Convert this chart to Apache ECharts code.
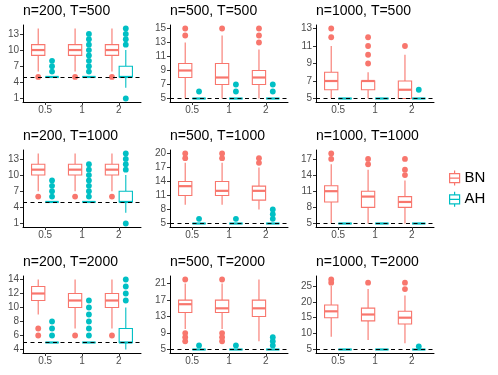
<!DOCTYPE html>
<html>
<head>
<meta charset="utf-8">
<script src="https://cdn.jsdelivr.net/npm/echarts@6/dist/echarts.min.js"></script>
<style>
html, body { margin: 0; padding: 0; background: #fff; }
#chart { width: 498px; height: 375px; }
</style>
</head>
<body>
<div id="chart"></div>
<script>
const categories = ['0.5', '1', '2'];
const panelTitles = [
  'n=200, T=500', 'n=500, T=500', 'n=1000, T=500',
  'n=200, T=1000', 'n=500, T=1000', 'n=1000, T=1000',
  'n=200, T=2000', 'n=500, T=2000', 'n=1000, T=2000'
];
const yTicks = [
  [1, 4, 7, 10, 13], [5, 7, 9, 11, 13, 15], [5, 7, 9, 11, 13],
  [1, 4, 7, 10, 13], [5, 8, 11, 14, 17, 20], [5, 8, 11, 14, 17],
  [4, 6, 8, 10, 12, 14], [5, 9, 13, 17, 21], [5, 10, 15, 20, 25]
];
const refLine = 5;

// per panel, per category: [lower whisker, Q1, median, Q3, upper whisker]
const bnStats = [
  [[6, 9, 10, 11, 14], [6, 9, 10, 11, 14], [6, 9, 10, 11, 14]],
  [[5, 8, 9, 10, 13], [5, 7, 8, 10, 14], [5, 7, 8, 9, 12]],
  [[5, 6, 7, 8, 11], [5, 6, 7, 7, 8], [5, 5, 6, 7, 10]],
  [[7, 10, 11, 12, 14], [7, 10, 11, 12, 14], [7, 10, 11, 12, 14]],
  [[9, 11, 13, 14, 18], [9, 11, 12, 14, 18], [8, 10, 12, 13, 17]],
  [[5, 9, 11, 12, 16], [5, 8, 10, 11, 15], [5, 8, 9, 10, 13]],
  [[9, 11, 12, 13, 14], [7, 10, 11, 12, 14], [7, 10, 11, 12, 14]],
  [[10, 14, 16, 17, 21], [10, 14, 15, 17, 21], [7, 13, 15, 17, 22]],
  [[9, 15, 17, 19, 25], [8, 14, 16, 18, 24], [7, 13, 15, 17, 22]]
];
const bnOutliers = [
  [[5], [5], [5]],
  [[14, 15], [15], [13, 14, 15]],
  [[12, 13], [9, 10, 11, 12], [11]],
  [[6], [6], [6]],
  [[19, 20], [19, 20], [18, 19]],
  [[17, 18], [16, 17], [14, 15, 17]],
  [[6, 7], [6], [6]],
  [[7, 8, 9, 22], [7, 8, 9, 22], []],
  [[26, 27], [26], [24, 26]]
];
const ahStats = [
  [[5, 5, 5, 5, 5], [5, 5, 5, 5, 5], [3, 5, 5, 7, 10]],
  [[5, 5, 5, 5, 5], [5, 5, 5, 5, 5], [5, 5, 5, 5, 5]],
  [[5, 5, 5, 5, 5], [5, 5, 5, 5, 5], [5, 5, 5, 5, 5]],
  [[5, 5, 5, 5, 5], [5, 5, 5, 5, 5], [3, 5, 5, 7, 10]],
  [[5, 5, 5, 5, 5], [5, 5, 5, 5, 5], [5, 5, 5, 5, 5]],
  [[5, 5, 5, 5, 5], [5, 5, 5, 5, 5], [5, 5, 5, 5, 5]],
  [[5, 5, 5, 5, 5], [5, 5, 5, 5, 5], [4, 5, 5, 7, 10]],
  [[5, 5, 5, 5, 5], [5, 5, 5, 5, 5], [5, 5, 5, 5, 5]],
  [[5, 5, 5, 5, 5], [5, 5, 5, 5, 5], [5, 5, 5, 5, 5]]
];
const ahOutliers = [
  [[6, 7, 8], [6, 7, 8, 9, 10, 11, 12, 13], [1, 11, 12, 13, 14]],
  [[6], [6, 7], [6, 7]],
  [[], [], [6]],
  [[6, 7, 8, 9], [6, 7, 8, 9, 10, 11, 12], [1, 11, 12, 13, 14]],
  [[6], [6], [6, 7, 8]],
  [[], [], []],
  [[6, 7, 8], [6, 7, 8, 9, 10, 11], [11, 12, 13, 14]],
  [[6], [6], [6, 7, 8]],
  [[], [], [6]]
];

const BN_COLOR = '#F8766D';
const AH_COLOR = '#00BFC4';
const DODGE = 0.1875;   // box centre offset, in category units
const HALF_BOX = 0.18;  // half box width, in category units

// layout of the 3x3 panels (px)
const colLeft = [23, 170, 316];
const rowTop = [25, 150, 276];
const plotW = 118;
const plotH = 77;
const titleTop = [4, 129, 255];

const BOX_ICON = 'path://M5,0L5,3M0,3L10,3L10,12L0,12ZM0,7.5L10,7.5M5,12L5,15';

function yRange (p) {
  const vals = [refLine];
  [bnStats, ahStats].forEach(s => s[p].forEach(b => vals.push(...b)));
  [bnOutliers, ahOutliers].forEach(o => o[p].forEach(l => vals.push(...l)));
  const lo = Math.min(...vals);
  const hi = Math.max(...vals);
  const pad = (hi - lo) * 0.05;
  return [lo - pad, hi + pad];
}

function boxSeries (name, color, side, stats, p) {
  return {
    name: name,
    type: 'custom',
    xAxisIndex: p,
    yAxisIndex: p,
    itemStyle: {color: color},
    encode: {x: 0, y: [1, 2, 3, 4, 5]},
    data: stats[p].map((s, i) => [i + 1].concat(s)),
    renderItem: function (params, api) {
      const x = api.value(0) + side * DODGE;
      const half = api.size([1, 0])[0] * HALF_BOX;
      const pt = d => api.coord([x, api.value(d)]);
      const lo = pt(1), q1 = pt(2), med = pt(3), q3 = pt(4), hi = pt(5);
      const cx = med[0];
      const thin = {stroke: color, lineWidth: 1.1};
      return {
        type: 'group',
        children: [
          {type: 'line', shape: {x1: cx, y1: hi[1], x2: cx, y2: q3[1]}, style: thin},
          {type: 'line', shape: {x1: cx, y1: q1[1], x2: cx, y2: lo[1]}, style: thin},
          {type: 'rect', shape: {x: cx - half, y: q3[1], width: half * 2, height: q1[1] - q3[1]},
            style: {fill: '#fff', stroke: color, lineWidth: 1.1}},
          {type: 'line', shape: {x1: cx - half, y1: med[1], x2: cx + half, y2: med[1]},
            style: {stroke: color, lineWidth: 2.2}}
        ]
      };
    }
  };
}

function outlierSeries (name, color, side, outliers, p) {
  const data = [];
  outliers[p].forEach((vals, i) => vals.forEach(v => data.push([i + 1, v])));
  return {
    name: name,
    type: 'custom',
    xAxisIndex: p,
    yAxisIndex: p,
    itemStyle: {color: color},
    encode: {x: 0, y: 1},
    data: data,
    renderItem: function (params, api) {
      const c = api.coord([api.value(0) + side * DODGE, api.value(1)]);
      return {type: 'circle', shape: {cx: c[0], cy: c[1], r: 2.9}, style: {fill: color}};
    }
  };
}

const grids = [], xAxes = [], yAxes = [], titles = [], series = [];
for (let p = 0; p < 9; p++) {
  const r = Math.floor(p / 3);
  const c = p % 3;
  grids.push({left: colLeft[c], top: rowTop[r], width: plotW, height: plotH});
  titles.push({
    text: panelTitles[p], left: colLeft[c], top: titleTop[r], padding: 0,
    textStyle: {fontSize: 14, fontWeight: 'normal', color: '#000'}
  });
  xAxes.push({
    type: 'value', gridIndex: p, min: 0.4, max: 3.6,
    axisLine: {show: true, onZero: false, lineStyle: {color: '#000', width: 1}},
    axisTick: {show: true, customValues: [1, 2, 3], length: 3, lineStyle: {color: '#333'}},
    axisLabel: {
      customValues: [1, 2, 3], color: '#4D4D4D', fontSize: 10, margin: 3,
      formatter: v => categories[Math.round(v) - 1]
    },
    splitLine: {show: false}
  });
  const yr = yRange(p);
  yAxes.push({
    type: 'value', gridIndex: p, min: yr[0], max: yr[1],
    axisLine: {show: true, onZero: false, lineStyle: {color: '#000', width: 1}},
    axisTick: {show: true, customValues: yTicks[p], length: 3, lineStyle: {color: '#333'}},
    axisLabel: {customValues: yTicks[p], color: '#4D4D4D', fontSize: 10, margin: 4},
    splitLine: {show: false}
  });
  series.push(boxSeries('BN', BN_COLOR, -1, bnStats, p));
  const ah = boxSeries('AH', AH_COLOR, 1, ahStats, p);
  ah.markLine = {
    silent: true, symbol: 'none', animation: false,
    label: {show: false},
    lineStyle: {color: '#000', type: [4, 3.5], width: 1.1},
    data: [{yAxis: refLine}]
  };
  series.push(ah);
  series.push(outlierSeries('BN', BN_COLOR, -1, bnOutliers, p));
  series.push(outlierSeries('AH', AH_COLOR, 1, ahOutliers, p));
}

const chart = echarts.init(document.getElementById('chart'));
chart.setOption({
  animation: false,
  backgroundColor: '#fff',
  textStyle: {fontFamily: 'Liberation Sans, Arial, sans-serif'},
  title: titles,
  grid: grids,
  xAxis: xAxes,
  yAxis: yAxes,
  legend: {
    orient: 'vertical', left: 449, top: 170, padding: 0,
    itemWidth: 10, itemHeight: 15, itemGap: 5,
    selectedMode: false,
    textStyle: {fontSize: 15, color: '#000'},
    data: [
      {name: 'BN', icon: BOX_ICON, itemStyle: {color: '#fff', borderColor: BN_COLOR, borderWidth: 1.2}},
      {name: 'AH', icon: BOX_ICON, itemStyle: {color: '#fff', borderColor: AH_COLOR, borderWidth: 1.2}}
    ]
  },
  series: series
});
</script>
</body>
</html>
